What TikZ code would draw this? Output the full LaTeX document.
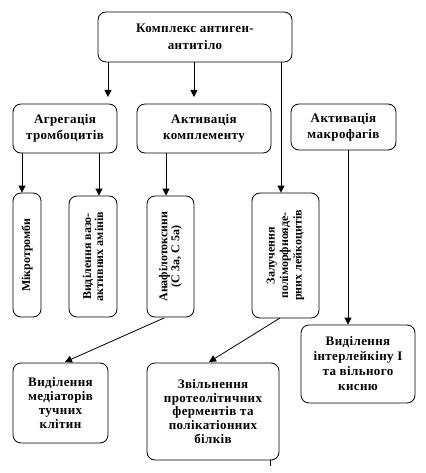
\documentclass[tikz,border=0pt]{standalone}
\usepackage{fontspec}
\setmainfont{Liberation Serif}
\newfontfamily\wideserif[LetterSpace=3]{Liberation Serif}
\usetikzlibrary{arrows.meta}
\begin{document}
\begin{tikzpicture}[x=1pt,y=-1pt,
  box/.style={draw,line width=0.8pt,rounded corners=8pt,inner sep=0pt,align=center,
    font=\wideserif\bfseries\fontsize{13}{16}\selectfont},
  lowbox/.style={box,font=\wideserif\bfseries\fontsize{13}{13.8}\selectfont},
  vbox/.style={box,rotate=90,font=\bfseries\fontsize{12}{12}\selectfont},
  arr/.style={line width=0.8pt,-{Triangle[width=7pt,length=7pt]}},
  ln/.style={line width=0.8pt}]
\useasboundingbox (0,0) rectangle (425,473);

% boxes
\node[box,minimum width=194pt,minimum height=50pt] (top) at (195,37) {Комплекс антиген-\\[1pt]антитіло};
\node[box,minimum width=104pt,minimum height=49pt] (agg) at (65,128.5) {Агрегація\\тромбоцитів};
\node[box,minimum width=134pt,minimum height=49pt] (kom) at (204,128.5) {Активація\\комплементу};
\node[box,minimum width=105pt,minimum height=46pt] (mak) at (343.5,127) {Активація\\макрофагів};

\node[vbox,minimum width=124pt,minimum height=28pt] (mt) at (27,255) {Мікротромби};
\node[vbox,minimum width=121pt,minimum height=48pt] (vaz) at (93,256.5) {Виділення вазо-\\активних амінів};
\node[vbox,minimum width=121pt,minimum height=47pt] (ana) at (170.5,256.5) {Анафілотоксини\\(С 3а, С 5а)};
\node[vbox,minimum width=125pt,minimum height=67pt,font=\bfseries\fontsize{12}{13.5}\selectfont] (zal) at (285.5,255.5) {Залучення\\поліморфнояде-\\рних лейкоцитів};

\node[lowbox,minimum width=95pt,minimum height=80pt] (med) at (60.5,403) {Виділення\\медіаторів\\тучних\\клітин};
\node[lowbox,minimum width=132pt,minimum height=97pt] (zv) at (213,411.5) {Звільнення\\протеолітичних\\ферментів та\\полікатіонних\\білків};
\node[box,minimum width=114pt,minimum height=78pt,font=\wideserif\bfseries\fontsize{13}{15}\selectfont] (int) at (358,364) {Виділення\\інтерлейкіну І\\та  вільного\\кисню};

% x positions
\coordinate (x108) at (108,0);
\coordinate (x194) at (194,0);
\coordinate (x281) at (281,0);
\coordinate (x22) at (22,0);
\coordinate (x99) at (99,0);
\coordinate (x166) at (166,0);
\coordinate (x348) at (348,0);
\coordinate (x270) at (270,0);
\coordinate (e1) at (108,97);
\coordinate (e2) at (194,97);
\coordinate (s1) at (164,318);
\coordinate (t1) at (65,362);
\coordinate (s2) at (280,318);
\coordinate (t2) at (209,362);
\coordinate (tick) at (270,466);

% connectors
\draw[arr] (top.south -| x108) -- (e1);
\draw[arr] (top.south -| x194) -- (e2);
\draw[arr] (top.south -| x281) -- (zal.east -| x281);
\draw[arr] (agg.south -| x22) -- (mt.east -| x22);
\draw[arr] (agg.south -| x99) -- (vaz.east -| x99);
\draw[arr] (kom.south -| x166) -- (ana.east -| x166);
\draw[arr] (mak.south -| x348) -- (int.north -| x348);
\draw[arr] (s1) -- (t1);
\draw[arr] (s2) -- (t2);
\draw[ln] (zv.south -| x270) -- (tick);
\end{tikzpicture}
\end{document}
